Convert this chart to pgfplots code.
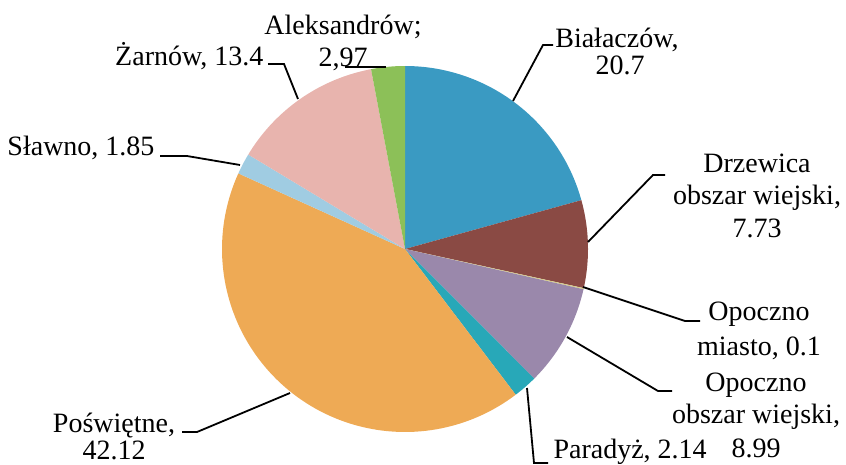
\documentclass[border=0pt]{standalone}
\usepackage{pgfplots}
\pgfplotsset{compat=1.18}
\usepackage{fontspec}
\setmainfont{Liberation Serif}
\newfontfamily\tnr{Liberation Serif}
\definecolor{cBia}{HTML}{3A9AC2}
\definecolor{cDrz}{HTML}{8A4A44}
\definecolor{cOpm}{HTML}{D8D08A}
\definecolor{cOpw}{HTML}{9A88AB}
\definecolor{cPar}{HTML}{28A8B8}
\definecolor{cPos}{HTML}{EEAA55}
\definecolor{cSla}{HTML}{A0CCE2}
\definecolor{cZar}{HTML}{E8B4AE}
\definecolor{cAle}{HTML}{8CC058}
% slice: start (cumulative %), end (cumulative %), colour
\newcommand{\slice}[3]{%
  \addplot[fill=#3, draw=none, domain=#1:#2, samples=90]
    ({405+183*cos(90-3.6*x)},{249-183*sin(90-3.6*x)}) -- (405,249) -- cycle;}
\begin{document}
\begin{tikzpicture}[font=\tnr\fontsize{28}{32}\selectfont]
\begin{axis}[
  at={(0,0)}, anchor=south west,
  width=846pt, height=465pt, scale only axis,
  xmin=0, xmax=846, ymin=0, ymax=465, y dir=reverse,
  hide axis, clip=false,
  every node/.append style={font=\tnr\fontsize{28}{32}\selectfont, inner sep=0pt},
]
% values: Białaczów 20.7, Drzewica o.w. 7.73, Opoczno m. 0.1, Opoczno o.w. 8.99,
% Paradyż 2.14, Poświętne 42.12, Sławno 1.85, Żarnów 13.4, Aleksandrów 2.97
\slice{0}{20.7}{cBia}
\slice{20.7}{28.43}{cDrz}
\slice{28.43}{28.53}{cOpm}
\slice{28.53}{37.52}{cOpw}
\slice{37.52}{39.66}{cPar}
\slice{39.66}{81.78}{cPos}
\slice{81.78}{83.63}{cSla}
\slice{83.63}{97.03}{cZar}
\slice{97.03}{100}{cAle}

% labels
\node[anchor=base] at (343,35) {Aleksandrów;};
\node[anchor=base] at (343,67) {2,97};
\node[anchor=base east] at (267,66) {Żarnów, 13.4};
\node[anchor=base east] at (158,156) {Sławno, 1.85};
\node[anchor=base] at (617,48) {Białaczów,};
\node[anchor=base] at (620,75) {20.7};
\node[anchor=base] at (757,173) {Drzewica};
\node[anchor=base] at (757,205) {obszar wiejski,};
\node[anchor=base] at (757,237) {7.73};
\node[anchor=base] at (759,320) {Opoczno};
\node[anchor=base] at (759,355) {miasto, 0.1};
\node[anchor=base] at (756,391) {Opoczno};
\node[anchor=base] at (756,423) {obszar wiejski,};
\node[anchor=base] at (756,457) {8.99};
\node[anchor=base west] at (550,458) {Paradyż, 2.14};
\node[anchor=base] at (114,432) {Poświętne,};
\node[anchor=base] at (114,459) {42.12};

% leader lines
\begin{scope}[line width=1.8pt, black]
\draw (345,67) -- (386,67);
\draw (268,64) -- (284,64) -- (298,99);
\draw (160,156) -- (187,156) -- (240,165);
\draw (553,45) -- (543,45) -- (513,101);
\draw (665,175) -- (653,175) -- (588,242);
\draw (583,287) -- (685,321) -- (700,321);
\draw (567,337) -- (658,391) -- (672,391);
\draw (527,388) -- (534,463) -- (548,463);
\draw (182,432) -- (197,432) -- (290,393);
\end{scope}
\end{axis}
\pgfresetboundingbox
\useasboundingbox (0,0) rectangle (846pt,465pt);
\end{tikzpicture}
\end{document}
